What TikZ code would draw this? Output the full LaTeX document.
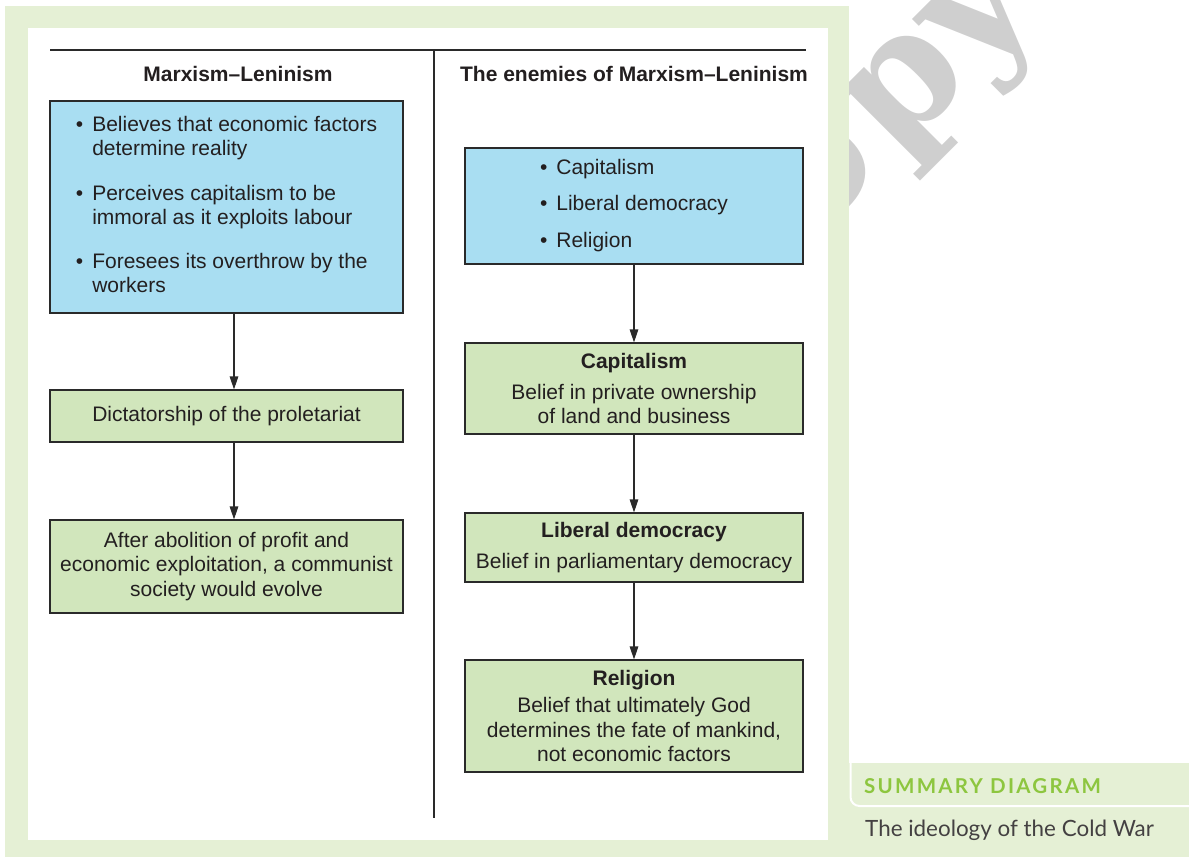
\documentclass[tikz,border=0pt]{standalone}
\usepackage{fontspec}
\setmainfont{Liberation Sans}
\newfontfamily\wmfont{DejaVu Serif}
\newfontfamily\sumfont[LetterSpace=11]{Lato}
\newfontfamily\capfont{Lato}
\usetikzlibrary{arrows.meta}
\definecolor{frameG}{HTML}{E5F0D5}
\definecolor{boxB}{HTML}{A9DEF2}
\definecolor{boxG}{HTML}{D1E6BC}
\definecolor{sumG}{HTML}{8DC63F}
\definecolor{wmc}{HTML}{CFCFCF}
\definecolor{txt}{HTML}{231F20}
\definecolor{linec}{HTML}{2A2A2A}
\begin{document}
\begin{tikzpicture}[x=1pt,y=-1pt,
  box/.style={draw=linec, line width=1.1pt, inner sep=0pt, font=\fontsize{21}{24.5}\selectfont, text=txt},
  bluebox/.style={box, fill=boxB},
  greenbox/.style={box, fill=boxG, align=center},
  arr/.style={draw=linec, line width=1.1pt, -{Triangle[length=13pt,width=8.5pt]}},
  rulel/.style={draw=linec, line width=1.4pt},
  head/.style={font=\bfseries\fontsize{21}{24.5}\selectfont, text=txt, inner sep=0pt, anchor=base},
  wm/.style={font=\wmfont\bfseries\fontsize{165}{165}\selectfont, text=wmc, rotate=45, inner sep=0pt}]
\useasboundingbox (0,0) rectangle (1189,857);
% watermark
\node[wm, anchor=base west] (wmk) at (893,160) {\llap{o\kern10pt}py};
% frame and panel
\fill[frameG] (5,6) rectangle (849,857);
\fill[frameG] (849,763) rectangle (1189,857);
\draw[white, line width=2pt, rounded corners=9pt] (850.5,763) |- (1189,806);
\fill[white] (28,28) rectangle (828,840);
% rules
\coordinate (r1) at (50,50);
\coordinate (r2) at (806,50);
\coordinate (d1) at (434,50);
\coordinate (d2) at (434,818);
\draw[rulel] (r1) -- (r2);
\draw[rulel] (d1) -- (d2);
% headers
\node[head] (h1) at (238,81) {Marxism–Leninism};
\node[head] (h2) at (634,81) {The enemies of Marxism–Leninism};
% left column
\node[bluebox, minimum width=353pt, minimum height=212pt] (lb) at (226.5,207) {%
\begin{tabular}{@{}l@{\hspace{9pt}}l@{}}
\textbullet & Believes that economic factors\\
 & determine reality\\[20pt]
\textbullet & Perceives capitalism to be\\
 & immoral as it exploits labour\\[19pt]
\textbullet & Foresees its overthrow by the\\
 & workers
\end{tabular}};
\node[greenbox, minimum width=353pt, minimum height=52pt] (dp) at (226.5,416) {Dictatorship of the proletariat};
\node[greenbox, minimum width=353pt, minimum height=93pt] (ab) at (226.5,566.5) {After abolition of profit and\\economic exploitation, a communist\\society would evolve};
\draw[arr] ([xshift=7.5pt]lb.south) -- ([xshift=7.5pt]dp.north);
\draw[arr] ([xshift=7.5pt]dp.south) -- ([xshift=7.5pt]ab.north);
% right column
\node[bluebox, minimum width=338pt, minimum height=116pt] (rb) at (634,206) {%
\begin{tabular}{@{}l@{\hspace{9pt}}l@{}}
\textbullet & Capitalism\\[12pt]
\textbullet & Liberal democracy\\[12pt]
\textbullet & Religion
\end{tabular}};
\node[greenbox, minimum width=338pt, minimum height=91pt] (cap) at (634,388.5) {\textbf{Capitalism}\\[6pt]Belief in private ownership\\of land and business};
\node[greenbox, minimum width=338pt, minimum height=69pt] (lib) at (634,547.5) {\textbf{Liberal democracy}\\[6.5pt]Belief in parliamentary democracy};
\node[greenbox, minimum width=338pt, minimum height=112pt] (rel) at (634,716) {\textbf{Religion}\\[3pt]Belief that ultimately God\\determines the fate of mankind,\\not economic factors};
\draw[arr] (rb.south) -- (cap.north);
\draw[arr] (cap.south) -- (lib.north);
\draw[arr] (lib.south) -- (rel.north);
% summary
\node[font=\sumfont\bfseries\fontsize{20.5}{22}\selectfont, text=sumG, anchor=base west, inner sep=0pt] (st) at (864,793) {SUMMARY DIAGRAM};
\node[font=\capfont\fontsize{22.4}{24}\selectfont, text=txt!85, anchor=base west, inner sep=0pt] (sc) at (865,836.5) {The ideology of the Cold War};
\end{tikzpicture}
\end{document}
